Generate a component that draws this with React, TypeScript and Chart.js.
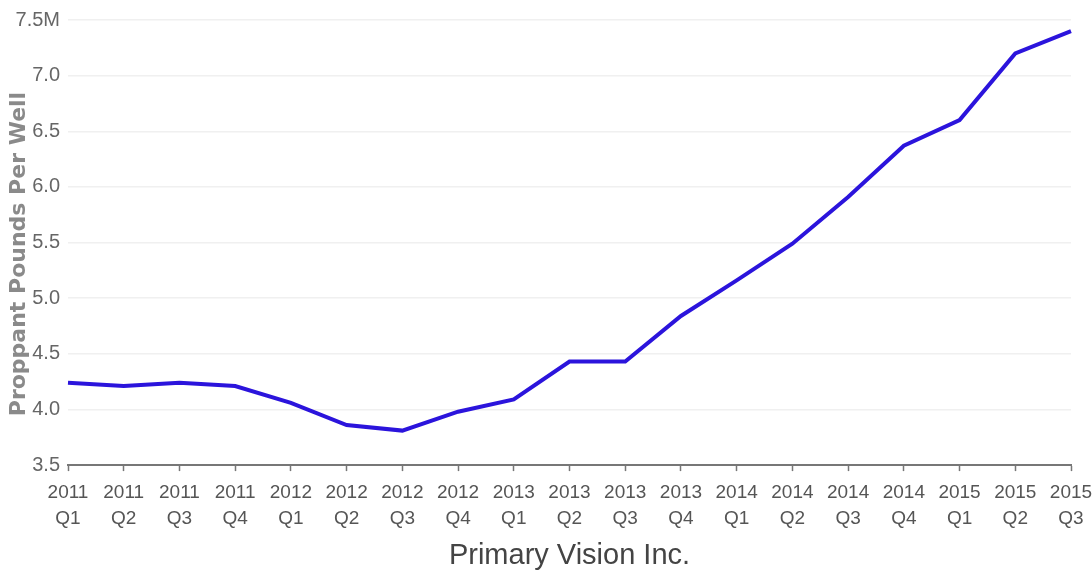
import { useEffect, useRef } from 'react';
import { Chart, registerables } from 'chart.js';

Chart.register(...registerables);

const years = ['2011', '2011', '2011', '2011', '2012', '2012', '2012', '2012', '2013', '2013', '2013', '2013', '2014', '2014', '2014', '2014', '2015', '2015', '2015'];
const quarters = ['Q1', 'Q2', 'Q3', 'Q4', 'Q1', 'Q2', 'Q3', 'Q4', 'Q1', 'Q2', 'Q3', 'Q4', 'Q1', 'Q2', 'Q3', 'Q4', 'Q1', 'Q2', 'Q3'];
const proppantPerWell = [4.24, 4.21, 4.24, 4.21, 4.06, 3.86, 3.81, 3.98, 4.09, 4.43, 4.43, 4.84, 5.16, 5.49, 5.91, 6.37, 6.6, 7.2, 7.4];
const yMin = 3.5;
const yMax = 7.5;
const yStep = 0.5;
const yTopLabel = '7.5M';
const yAxisTitle = 'Proppant Pounds Per Well   ';
const chartTitle = 'Primary Vision Inc.';

const sans = '"Liberation Sans", Arial, sans-serif';

export default function App() {
  const ref = useRef<HTMLCanvasElement>(null);

  useEffect(() => {
    if (!ref.current) return;
    const labels = years.map((y, i) => [y, quarters[i]]);
    const chart = new Chart(ref.current, {
      type: 'line',
      data: {
        labels,
        datasets: [
          {
            data: proppantPerWell,
            borderColor: '#2b14dc',
            borderWidth: 4,
            pointRadius: 0,
            tension: 0,
            fill: false,
          },
        ],
      },
      options: {
        animation: false,
        responsive: true,
        maintainAspectRatio: false,
        layout: { padding: { left: 0, right: 21, top: 18, bottom: 0 } },
        plugins: {
          legend: { display: false },
          tooltip: { enabled: false },
          title: {
            display: true,
            position: 'bottom',
            fullSize: false,
            text: chartTitle,
            color: '#444',
            font: { family: sans, size: 29, weight: 'normal', lineHeight: 1.1 },
            padding: { top: 8, bottom: 0 },
          },
        },
        scales: {
          x: {
            grid: {
              drawOnChartArea: false,
              drawTicks: true,
              tickLength: 6,
              tickWidth: 1.5,
              tickColor: '#777',
            },
            border: { display: true, color: '#777', width: 2 },
            ticks: {
              autoSkip: false,
              maxRotation: 0,
              minRotation: 0,
              padding: 8,
              color: '#555',
              font: { family: sans, size: 19, lineHeight: 1.4 },
            },
            afterFit: (scale: any) => {
              scale.height = 67;
              scale.paddingLeft = 0;
              scale.paddingRight = 0;
            },
          },
          y: {
            min: yMin,
            max: yMax,
            grid: { color: '#f0f0f0', lineWidth: 1.5, drawTicks: false },
            border: { display: false },
            ticks: {
              stepSize: yStep,
              padding: 8,
              color: '#666',
              font: { family: sans, size: 20 },
              callback: (v: any) => (Number(v) === yMax ? yTopLabel : Number(v).toFixed(1)),
            },
            title: {
              display: true,
              text: yAxisTitle,
              color: '#8a8a8a',
              font: { family: '"DejaVu Sans", sans-serif', size: 22, weight: 'bold', lineHeight: 1.2 },
              padding: { top: 6, bottom: 0 },
            },
            afterFit: (scale: any) => {
              scale.width = 68;
            },
          },
        },
      },
    });
    return () => chart.destroy();
  }, []);

  return (
    <div style={{ position: 'fixed', left: 0, top: 0, width: 1092, height: 572, background: '#fff' }}>
      <canvas ref={ref} />
    </div>
  );
}
